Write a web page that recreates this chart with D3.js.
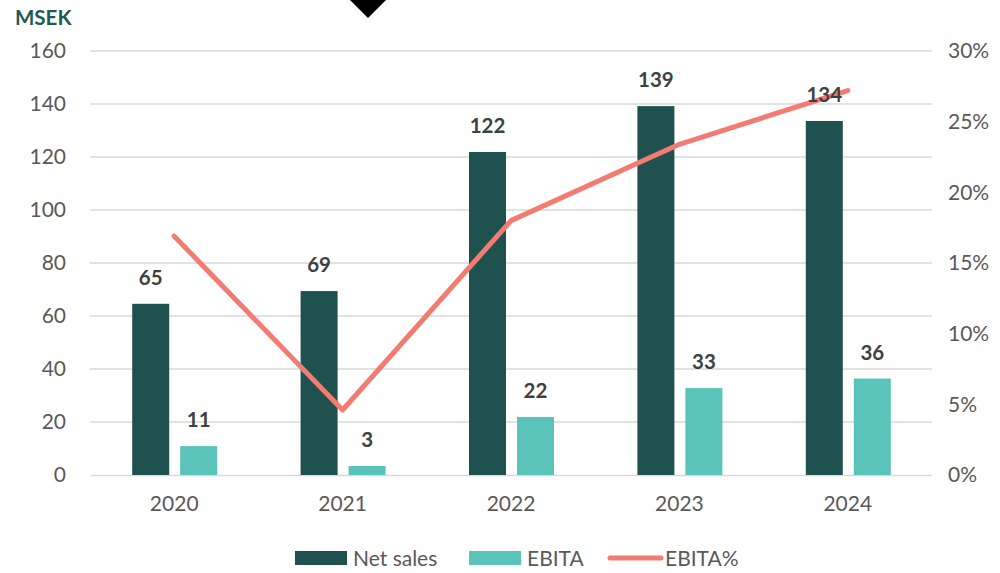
<!DOCTYPE html>
<html>
<head>
<meta charset="utf-8">
<script src="https://cdn.jsdelivr.net/npm/d3@7"></script>
<style>
  body { margin: 0; background: #fff; }
  svg text { font-family: Lato, "Open Sans", sans-serif; }
</style>
</head>
<body>
<div id="chart"></div>
<script>
const years = ["2020", "2021", "2022", "2023", "2024"];
const netSales = [64.6, 69.4, 121.9, 139.2, 133.6];
const ebita = [10.9, 3.4, 21.9, 32.8, 36.4];
const ebitaPct = [16.9, 4.6, 18.0, 23.4, 27.2];
const leftTicks = [0, 20, 40, 60, 80, 100, 120, 140, 160];
const rightTicks = [0, 5, 10, 15, 20, 25, 30];

const W = 1000, H = 573;
const margin = {left: 90, right: 68, top: 51, bottom: 98};
const width = W - margin.left - margin.right;
const height = H - margin.top - margin.bottom;

const colNet = "#1f524f", colEbita = "#5bc4ba", colLine = "#f27b72";

const svg = d3.select("#chart").append("svg")
    .attr("width", W)
    .attr("height", H);

// decorative marker at top
svg.append("path")
    .attr("d", "M344,-6 L392,-6 L368,18 Z")
    .attr("fill", "#000");

const g = svg.append("g")
    .attr("transform", `translate(${margin.left}, ${margin.top})`);

const x = d3.scaleBand().domain(years).range([0, width]);
const y = d3.scaleLinear().domain([0, 160]).range([height, 0]);
const y2 = d3.scaleLinear().domain([0, 30]).range([height, 0]);

// grid
g.selectAll(".grid")
    .data(leftTicks.filter(d => d > 0))
    .enter().append("line")
    .attr("x1", 0).attr("x2", width)
    .attr("y1", d => y(d)).attr("y2", d => y(d))
    .attr("stroke", "#d9d9d9").attr("stroke-width", 1.3);

// left axis
const yAxis = g.append("g").call(d3.axisLeft(y).tickValues(leftTicks).tickSize(0).tickPadding(24));
yAxis.select(".domain").remove();
yAxis.selectAll("text").attr("font-size", 21).attr("fill", "#595959");

// right axis
const yAxis2 = g.append("g")
    .attr("transform", `translate(${width}, 0)`)
    .call(d3.axisRight(y2).tickValues(rightTicks).tickFormat(d => d + "%").tickSize(0).tickPadding(16));
yAxis2.select(".domain").remove();
yAxis2.selectAll("text").attr("font-size", 21).attr("fill", "#595959");

// x axis
const xAxis = g.append("g")
    .attr("transform", `translate(0, ${height})`)
    .call(d3.axisBottom(x).tickSize(0).tickPadding(21));
xAxis.select(".domain").attr("stroke", "#d9d9d9").attr("stroke-width", 1.3);
xAxis.selectAll("text").attr("font-size", 21).attr("fill", "#595959");

const barW = 37, gap = 11;
const netX = d => x(d) + x.bandwidth() / 2 - barW - gap / 2 + 0.5;
const ebX = d => x(d) + x.bandwidth() / 2 + gap / 2 + 0.5;

g.selectAll(".net")
    .data(years)
    .enter().append("rect")
    .attr("x", d => netX(d))
    .attr("y", (d, i) => y(netSales[i]))
    .attr("width", barW)
    .attr("height", (d, i) => height - y(netSales[i]))
    .attr("fill", colNet);

g.selectAll(".eb")
    .data(years)
    .enter().append("rect")
    .attr("x", d => ebX(d))
    .attr("y", (d, i) => y(ebita[i]))
    .attr("width", barW)
    .attr("height", (d, i) => height - y(ebita[i]))
    .attr("fill", colEbita);

// EBITA% line
const line = d3.line()
    .x((d, i) => x(years[i]) + x.bandwidth() / 2)
    .y(d => y2(d));

g.append("path")
    .datum(ebitaPct)
    .attr("d", line)
    .attr("fill", "none")
    .attr("stroke", colLine)
    .attr("stroke-width", 5)
    .attr("stroke-linecap", "round")
    .attr("stroke-linejoin", "round");

// value labels (on top of the line)
g.selectAll(".netLbl")
    .data(years)
    .enter().append("text")
    .attr("x", d => netX(d) + barW / 2)
    .attr("y", (d, i) => y(netSales[i]) - 19)
    .attr("text-anchor", "middle")
    .attr("font-size", 20.5).attr("font-weight", "bold").attr("fill", "#404040")
    .text((d, i) => Math.round(netSales[i]));

g.selectAll(".ebLbl")
    .data(years)
    .enter().append("text")
    .attr("x", d => ebX(d) + barW / 2)
    .attr("y", (d, i) => y(ebita[i]) - 19)
    .attr("text-anchor", "middle")
    .attr("font-size", 20.5).attr("font-weight", "bold").attr("fill", "#404040")
    .text((d, i) => Math.round(ebita[i]));

// unit title
svg.append("text")
    .attr("x", 15).attr("y", 25)
    .attr("font-size", 20.5).attr("font-weight", "bold").attr("fill", "#1f5a55")
    .text("MSEK");

// legend
const leg = svg.append("g").attr("transform", "translate(0, 558)");
leg.append("rect").attr("x", 295).attr("y", -7).attr("width", 52).attr("height", 14).attr("fill", colNet);
leg.append("text").attr("x", 353).attr("y", 7.5).attr("font-size", 21).attr("fill", "#595959").text("Net sales");
leg.append("rect").attr("x", 469).attr("y", -7).attr("width", 52).attr("height", 14).attr("fill", colEbita);
leg.append("text").attr("x", 527).attr("y", 7.5).attr("font-size", 21).attr("fill", "#595959").text("EBITA");
leg.append("line").attr("x1", 610).attr("x2", 661).attr("y1", 0).attr("y2", 0)
    .attr("stroke", colLine).attr("stroke-width", 5).attr("stroke-linecap", "round");
leg.append("text").attr("x", 665).attr("y", 7.5).attr("font-size", 21).attr("fill", "#595959").text("EBITA%");
</script>
</body>
</html>
